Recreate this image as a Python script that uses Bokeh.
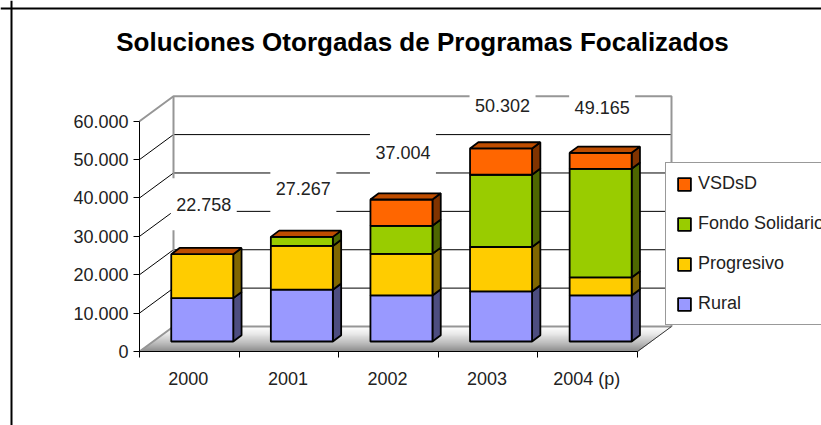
from bokeh.plotting import figure
from bokeh.models import LinearAxis, FixedTicker, Legend, LegendItem, Label, Span
from bokeh.embed import file_html
from bokeh.resources import INLINE

# --- data ---
years = ["2000", "2001", "2002", "2003", "2004 (p)"]
rural = [11300, 13500, 12000, 13050, 12000]
progresivo = [11458, 11400, 10850, 11570, 4700]
fondo = [0, 2367, 7300, 18830, 28300]
vsdsd = [0, 0, 6854, 6852, 4165]
totals = [22758, 27267, 37004, 50302, 49165]
total_labels = ["22.758", "27.267", "37.004", "50.302", "49.165"]
y_ticks = [0, 10000, 20000, 30000, 40000, 50000, 60000]
y_labels = ["0", "10.000", "20.000", "30.000", "40.000", "50.000", "60.000"]
title_text = "Soluciones Otorgadas de Programas Focalizados"

# --- scale: px per unit, from the reference ---
W, H = 821, 425
PX_X, PX_Y = 99.6, 38.38 / 10000
X0, Y0 = 139, 351           # pixel position of data origin inside the figure
ux = lambda px: px / PX_X
uy = lambda px: px / PX_Y

p = figure(width=W, height=H, output_backend="svg", toolbar_location=None,
           x_axis_type=None, y_axis_type=None,
           x_range=(ux(-X0), ux(W - X0)), y_range=(uy(Y0 - H), uy(Y0)),
           min_border=0, min_border_left=0, min_border_right=0, min_border_top=0, min_border_bottom=0)
p.outline_line_color = None
p.grid.visible = False
p.background_fill_color = "white"
p.border_fill_color = "white"

# depth of the plot box
DX, DY = ux(34), uy(25)
N = len(years)
TOP = y_ticks[-1]

# floor with vertical gradient
STRIPS = 26
for i in range(STRIPS):
    a, b = i / STRIPS, (i + 1) / STRIPS
    c = int(255 - (255 - 140) * (1 - a) ** 1.3) if a > 0.0 else 140
    col = f"#{c:02x}{c:02x}{c:02x}"
    p.patch([a * DX, N + a * DX, N + b * DX, b * DX],
            [a * DY, a * DY, b * DY, b * DY], fill_color=col, line_color=col, line_width=1)

GRAY = "#969696"
# walls: grid lines on the back wall and the diagonals on the side wall
for v in y_ticks[1:-1]:
    p.line([DX, N + DX], [v + DY, v + DY], line_color="black", line_width=1)
    p.line([0, DX], [v, v + DY], line_color="black", line_width=1)
p.line([0, DX, N + DX, N + DX], [TOP, TOP + DY, TOP + DY, DY], line_color=GRAY, line_width=2)
p.line([DX, DX], [DY, TOP + DY], line_color=GRAY, line_width=2)
p.line([0, DX, N + DX], [0, DY, DY], line_color=GRAY, line_width=2)
p.line([N, N + DX], [0, DY], line_color="#333333", line_width=1)

# white boxes behind the totals, which interrupt the grid lines
CENTER = [i + 0.63 for i in range(N)]
HALF = ux(31)
BASE = uy(10)
LIFT = uy(47)
NUDGE = [uy(n) for n in (3, 1, 0, -4, -2)]
LABEL_Y = [t + BASE + LIFT + n for t, n in zip(totals, NUDGE)]
p.quad(left=[c + ux(1.5) - ux(33) for c in CENTER], right=[c + ux(1.5) + ux(33) for c in CENTER],
       bottom=[y - uy(26) for y in LABEL_Y], top=[y + uy(26) for y in LABEL_Y],
       fill_color="white", line_color=None)

# stacked 3D bars
series = [("Rural", rural, "#9999FF", "#4D4D80"),
          ("Progresivo", progresivo, "#FFCC00", "#806600"),
          ("Fondo Solidario", fondo, "#99CC00", "#4D6600"),
          ("VSDsD", vsdsd, "#FF6600", "#803300")]
BW = 1.8
SX, SY = ux(8.3), uy(6.2)
bottoms = [BASE] * N
renderers = {}
for name, vals, col, dark in series:
    l, r, b, t = [], [], [], []
    for i, v in enumerate(vals):
        if v > 0:
            l.append(CENTER[i] - HALF)
            r.append(CENTER[i] + HALF)
            b.append(bottoms[i])
            t.append(bottoms[i] + v)
    p.patches([[x, x + SX, x + SX, x] for x in r],
              [[y0, y0 + SY, y1 + SY, y1] for y0, y1 in zip(b, t)],
              fill_color=dark, line_color="black", line_width=BW)
    renderers[name] = p.quad(left=l, right=r, bottom=b, top=t, fill_color=col,
                             line_color="black", line_width=BW)
    bottoms = [bo + v for bo, v in zip(bottoms, vals)]

# top faces
p.patches([[c - HALF, c - HALF + SX, c + HALF + SX, c + HALF] for c in CENTER],
          [[t, t + SY, t + SY, t] for t in bottoms],
          fill_color="#BF4D00", line_color="black", line_width=BW)

# totals
p.text(x=[c + ux(1.5) for c in CENTER], y=LABEL_Y, text=total_labels,
       text_font_size="18px", text_font={"value": "Liberation Sans"}, text_color="#222222",
       text_align="center", text_baseline="middle")

# axes
yax = LinearAxis(fixed_location=0, bounds=(0, TOP), ticker=FixedTicker(ticks=y_ticks),
                 major_label_overrides=dict(zip(y_ticks, y_labels)))
yax.major_tick_in = 0
yax.major_tick_out = 6
yax.major_tick_line_color = "black"
yax.minor_tick_line_color = None
yax.axis_line_color = "black"
yax.major_label_standoff = 5
yax.major_label_text_font = "Liberation Sans"
yax.major_label_text_font_size = "18px"
yax.major_label_text_color = "#222222"
p.add_layout(yax, "left")

xax = LinearAxis(fixed_location=0, bounds=(0, N), ticker=FixedTicker(ticks=list(range(N + 1))),
                 major_label_overrides={i: "" for i in range(N + 1)})
xax.major_tick_in = 0
xax.major_tick_out = 6
xax.minor_tick_line_color = None
xax.major_tick_line_color = "black"
xax.axis_line_color = "black"
p.add_layout(xax, "below")

xlab = LinearAxis(fixed_location=0, ticker=FixedTicker(ticks=[i + 0.49 for i in range(N)]),
                  major_label_overrides={i + 0.49: y for i, y in enumerate(years)})
xlab.major_tick_line_color = None
xlab.minor_tick_line_color = None
xlab.axis_line_color = None
xlab.major_tick_in = 0
xlab.major_tick_out = 0
xlab.major_label_standoff = 17
xlab.major_label_text_font = "Liberation Sans"
xlab.major_label_text_font_size = "18px"
xlab.major_label_text_color = "#222222"
p.add_layout(xlab, "below")

# legend
legend = Legend(items=[LegendItem(label=n, renderers=[renderers[n]])
                       for n in ["VSDsD", "Fondo Solidario", "Progresivo", "Rural"]],
                location=(665, 100), orientation="vertical", margin=0, padding=10, spacing=19,
                glyph_width=16, glyph_height=16, label_height=16, label_standoff=6,
                label_text_font="Liberation Sans", label_text_font_size="18px",
                label_text_color="#222222", label_text_baseline="middle",
                border_line_color="#333333", border_line_width=1,
                background_fill_color="white", background_fill_alpha=1)
p.add_layout(legend, "center")

# title and chart-area frame
p.add_layout(Label(x=ux(422 - 139), y=uy(351 - 41), text=title_text, text_align="center",
                   text_baseline="middle", text_font="Liberation Sans", text_font_style="bold",
                   text_font_size="26px", text_color="black"))
p.add_layout(Span(location=ux(11 - 139), dimension="height", line_color="black", line_width=2))
p.add_layout(Span(location=uy(351 - 8), dimension="width", line_color="black", line_width=2))

open("out.html", "w").write(file_html(p, INLINE))
